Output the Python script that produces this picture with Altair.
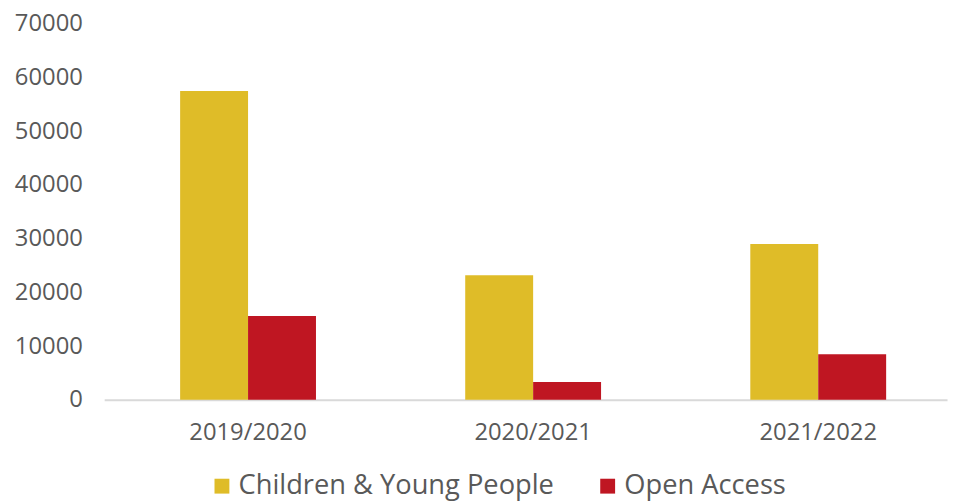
import altair as alt
import pandas as pd

years = ["2019/2020", "2020/2021", "2021/2022"]
series = ["Children & Young People", "Open Access"]
cyp = [57500, 23200, 29000]
oa = [15600, 3300, 8500]
colors = ["#DFBC28", "#BF1622"]

rows = []
for i, y in enumerate(years):
    rows.append({"year": y, "series": series[0], "value": cyp[i]})
    rows.append({"year": y, "series": series[1], "value": oa[i]})
df = pd.DataFrame(rows)

FONT = "Open Sans"
GREY = "#595959"

chart = alt.Chart(df).mark_bar().encode(
    x=alt.X("year:N", sort=years, title=None,
            scale=alt.Scale(paddingInner=0.5235, paddingOuter=0.24, align=0.555),
            axis=alt.Axis(labelAngle=0, labelFont=FONT, labelFontSize=24, labelColor=GREY,
                          labelPadding=21, ticks=False, domainColor="#d9d9d9", domainWidth=2)),
    xOffset=alt.XOffset("series:N", sort=series, scale=alt.Scale(paddingInner=0, paddingOuter=0)),
    y=alt.Y("value:Q", title=None,
            scale=alt.Scale(domain=[0, 70000], nice=False),
            axis=alt.Axis(values=list(range(0, 70001, 10000)), format="d", grid=False, domain=False,
                          ticks=False, labelFont=FONT, labelFontSize=24, labelColor=GREY, labelPadding=22)),
    color=alt.Color("series:N", sort=series, title=None,
                    scale=alt.Scale(domain=series, range=colors),
                    legend=alt.Legend(orient="none", direction="horizontal", legendX=105, legendY=452,
                                      symbolType="square", symbolSize=225, symbolStrokeWidth=0,
                                      labelFont=FONT, labelFontSize=27.5, labelColor=GREY, labelLimit=0,
                                      labelOffset=3, columnPadding=40)),
).properties(
    width=850, height=379,
    autosize=alt.AutoSizeParams(type="none"),
    padding={"left": 97, "top": 14, "right": 5, "bottom": 101},
).configure_view(stroke=None)

chart.save("out.html", embed_options={"renderer": "svg", "actions": False})
